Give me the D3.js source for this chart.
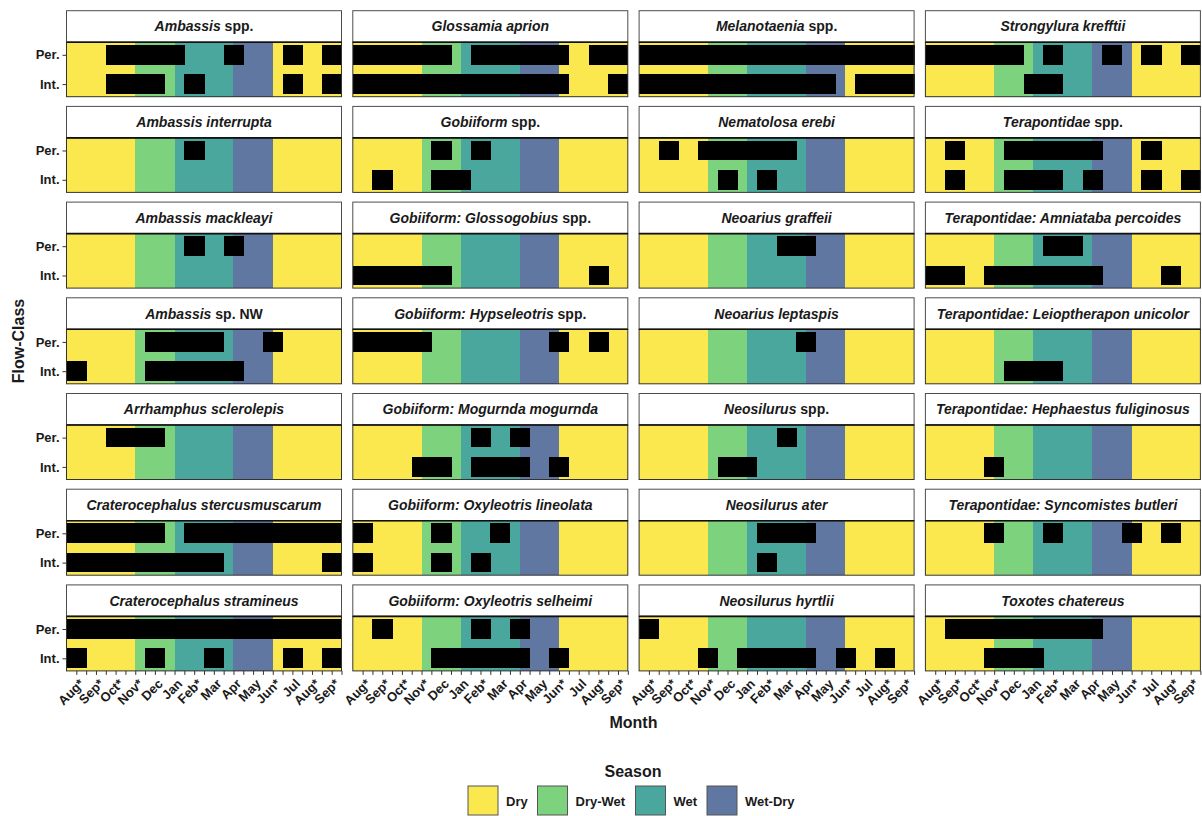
<!DOCTYPE html>
<html>
<head>
<meta charset="utf-8">
<script src="https://cdn.jsdelivr.net/npm/d3@7"></script>
<style>
  body { margin: 0; background: #fff; }
  svg text { font-family: "Liberation Sans", Arial, Helvetica, sans-serif; font-weight: bold; fill: #1a1a1a; }
  rect.cell, rect.band { shape-rendering: crispEdges; }
</style>
</head>
<body>
<div id="chart"></div>
<script>
// Months on the x axis (cell centres at 1..14).
const months = ['Aug*', 'Sep*', 'Oct*', 'Nov*', 'Dec', 'Jan', 'Feb*', 'Mar', 'Apr', 'May', 'Jun*', 'Jul', 'Aug*', 'Sep*'];
const flowClasses = ['Per.', 'Int.'];

// Season legend and background bands (in month units).
const seasons = ['Dry', 'Dry-Wet', 'Wet', 'Wet-Dry'];
const seasonColors = ['#FBE84F', '#7DD27E', '#49A79E', '#5F77A1'];
const bandSeason = ['Dry', 'Dry-Wet', 'Wet', 'Wet-Dry', 'Dry'];
const bandFrom = [0.5, 4, 6, 9, 11];
const bandTo = [4, 6, 9, 11, 14.5];

// Panel titles: italic part + plain part (column by column).
const titleItalic = [
  'Ambassis', 'Ambassis interrupta', 'Ambassis mackleayi', 'Ambassis', 'Arrhamphus sclerolepis',
  'Craterocephalus stercusmuscarum', 'Craterocephalus stramineus',
  'Glossamia aprion', 'Gobiiform', 'Gobiiform: Glossogobius', 'Gobiiform: Hypseleotris',
  'Gobiiform: Mogurnda mogurnda', 'Gobiiform: Oxyleotris lineolata', 'Gobiiform: Oxyleotris selheimi',
  'Melanotaenia', 'Nematolosa erebi', 'Neoarius graffeii', 'Neoarius leptaspis', 'Neosilurus',
  'Neosilurus ater', 'Neosilurus hyrtlii',
  'Strongylura krefftii', 'Terapontidae', 'Terapontidae: Amniataba percoides',
  'Terapontidae: Leioptherapon unicolor', 'Terapontidae: Hephaestus fuliginosus',
  'Terapontidae: Syncomistes butleri', 'Toxotes chatereus'
];
const titlePlain = [
  ' spp.', '', '', ' sp. NW', '', '', '',
  '', ' spp.', ' spp.', ' spp.', '', '', '',
  ' spp.', '', '', '', ' spp.', '', '',
  '', ' spp.', '', '', '', '', ''
];

// Months (1..14) in which each taxon was recorded.
const perMonths = [
  [3, 4, 5, 6, 9, 12, 14], [7], [7, 9], [5, 6, 7, 8, 11], [3, 4, 5],
  [1, 2, 3, 4, 5, 7, 8, 9, 10, 11, 12, 13, 14], [1, 2, 3, 4, 5, 6, 7, 8, 9, 10, 11, 12, 13, 14],
  [1, 2, 3, 4, 5, 7, 8, 9, 10, 11, 13, 14], [5, 7], [], [1, 2, 3, 4, 11, 13], [7, 9], [1, 5, 8], [2, 7, 9],
  [1, 2, 3, 4, 5, 6, 7, 8, 9, 10, 11, 12, 13, 14], [2, 4, 5, 6, 7, 8], [8, 9], [9], [8], [7, 8, 9], [1],
  [1, 2, 3, 4, 5, 7, 10, 12, 14], [2, 5, 6, 7, 8, 9, 12], [7, 8], [], [], [4, 7, 11, 13], [2, 3, 4, 5, 6, 7, 8, 9]
];
const intMonths = [
  [3, 4, 5, 7, 12, 14], [], [], [1, 5, 6, 7, 8, 9], [],
  [1, 2, 3, 4, 5, 6, 7, 8, 14], [1, 5, 8, 12, 14],
  [1, 2, 3, 4, 5, 6, 7, 8, 9, 10, 11, 14], [2, 5, 6], [1, 2, 3, 4, 5, 13], [], [4, 5, 7, 8, 9, 11], [1, 5, 7], [5, 6, 7, 8, 9, 11],
  [1, 2, 3, 4, 5, 6, 7, 8, 9, 10, 12, 13, 14], [5, 7], [], [], [5, 6], [7], [4, 6, 7, 8, 9, 11, 13],
  [6, 7], [2, 5, 6, 7, 9, 12, 14], [1, 2, 4, 5, 6, 7, 8, 9, 13], [5, 6, 7], [4], [], [4, 5, 6]
];

// Layout.
const W = 1202, H = 816;
const nRow = 7;
const colLeft = 66.5, colStep = 286.3, pw = 275;
const rowTop = 10.7, rowStep = 95.7, stripH = 31.5, ph = 54.5;

const color = d3.scaleOrdinal().domain(seasons).range(seasonColors);
const x = d3.scaleLinear().domain([0.5, 14.5]).range([0, pw]);
const y = d3.scalePoint().domain(flowClasses).range([0, ph]).padding(0.43);
const cellH = y.step() * 0.67;

const svg = d3.select('#chart').append('svg').attr('width', W).attr('height', H);

const panels = titleItalic.map((t, i) => ({
  i, italic: t, plain: titlePlain[i],
  col: Math.floor(i / nRow), row: i % nRow,
  cells: perMonths[i].map(m => ({ m, f: 'Per.' })).concat(intMonths[i].map(m => ({ m, f: 'Int.' })))
}));

const bands = bandSeason.map((s, i) => ({ s, a: bandFrom[i], b: bandTo[i] }));

const g = svg.selectAll('g.panel')
  .data(panels)
  .join('g')
  .attr('class', 'panel')
  .attr('transform', d => `translate(${colLeft + d.col * colStep}, ${rowTop + d.row * rowStep})`);

// Strip.
g.append('rect')
  .attr('width', pw).attr('height', stripH)
  .attr('fill', '#fff').attr('stroke', '#4d4d4d').attr('stroke-width', 1);

const title = g.append('text')
  .attr('x', pw / 2).attr('y', stripH / 2 + 5)
  .attr('text-anchor', 'middle')
  .style('font-size', '14px');
title.append('tspan').style('font-style', 'italic').text(d => d.italic);
title.append('tspan').text(d => d.plain.replace(/^ /, '\u00a0'));

// Plot area.
const body = g.append('g').attr('transform', `translate(0, ${stripH})`);

body.selectAll('rect.band')
  .data(bands)
  .join('rect')
  .attr('class', 'band')
  .attr('x', d => x(d.a)).attr('width', d => x(d.b) - x(d.a))
  .attr('height', ph)
  .attr('fill', d => color(d.s));

body.selectAll('rect.cell')
  .data(d => d.cells)
  .join('rect')
  .attr('class', 'cell')
  .attr('x', d => x(d.m - 0.5)).attr('width', x(1) - x(0) + 0.5)
  .attr('y', d => y(d.f) - cellH / 2).attr('height', cellH)
  .attr('fill', '#000');

body.append('rect')
  .attr('width', pw).attr('height', ph)
  .attr('fill', 'none').attr('stroke', '#333').attr('stroke-width', 1);
body.append('line')
  .attr('x2', pw).attr('stroke', '#111').attr('stroke-width', 1.6);

// Y axes on the first column.
const yAxis = d3.axisLeft(y).tickSize(4).tickPadding(3);
body.filter(d => d.col === 0).append('g')
  .call(yAxis)
  .call(a => a.select('.domain').remove())
  .call(a => a.selectAll('line').attr('stroke', '#333'))
  .call(a => a.selectAll('text').style('font-size', '13px').attr('fill', '#1a1a1a'));

// X axes on the bottom row.
const tickVals = d3.range(2, 30).map(v => v / 2);
const xAxis = d3.axisBottom(x).tickValues(tickVals).tickSize(4).tickFormat('');
const bottom = body.filter(d => d.row === nRow - 1).append('g')
  .attr('transform', `translate(0, ${ph})`)
  .call(xAxis)
  .call(a => a.select('.domain').remove())
  .call(a => a.selectAll('line').attr('stroke', '#333'));

bottom.selectAll('text.month')
  .data(months.map((m, i) => ({ m, v: i + 1 })))
  .join('text')
  .attr('class', 'month')
  .attr('transform', d => `translate(${x(d.v) + 2}, 7) rotate(-45)`)
  .attr('text-anchor', 'end')
  .attr('dy', '0.72em')
  .style('font-size', '13px')
  .text(d => d.m);

// Axis titles.
const plotLeft = colLeft, plotRight = colLeft + 3 * colStep + pw;
svg.append('text')
  .attr('x', (plotLeft + plotRight) / 2).attr('y', 728)
  .attr('text-anchor', 'middle').style('font-size', '16px')
  .text('Month');

svg.append('text')
  .attr('transform', `translate(24, 341) rotate(-90)`)
  .attr('text-anchor', 'middle').style('font-size', '16px')
  .text('Flow-Class');

// Legend.
svg.append('text')
  .attr('x', 633).attr('y', 777)
  .attr('text-anchor', 'middle').style('font-size', '16px')
  .text('Season');

const legendX = [468, 537.5, 635.5, 707];
const key = svg.selectAll('g.key')
  .data(seasons)
  .join('g')
  .attr('class', 'key')
  .attr('transform', (d, i) => `translate(${legendX[i]}, 786)`);
key.append('rect')
  .attr('width', 30).attr('height', 29)
  .attr('fill', d => color(d)).attr('stroke', '#555').attr('stroke-width', 1);
key.append('text')
  .attr('x', 38).attr('y', 20)
  .style('font-size', '13px')
  .text(d => d);
</script>
</body>
</html>
